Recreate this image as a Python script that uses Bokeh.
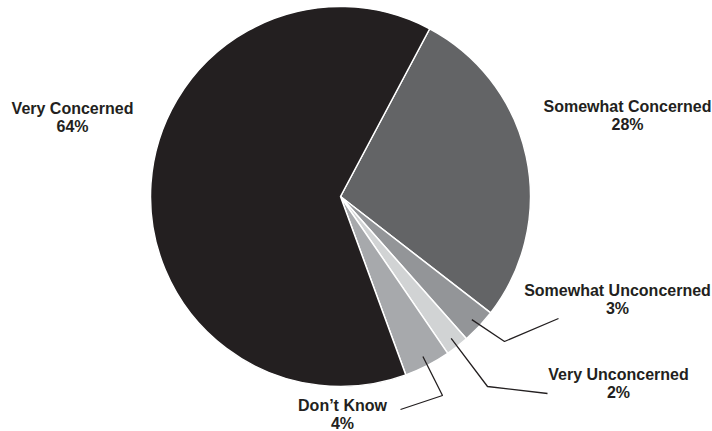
import math
from bokeh.plotting import figure
from bokeh.models import Range1d, ColumnDataSource
from bokeh.core.properties import value
from bokeh.embed import file_html
from bokeh.resources import INLINE

# Data (clockwise from Somewhat Concerned)
categories = ["Somewhat Concerned", "Somewhat Unconcerned", "Very Unconcerned", "Don't Know", "Very Concerned"]
percents = [28, 3, 2, 4, 64]
colors = ["#636466", "#939598", "#d1d3d4", "#a7a9ac", "#231f20"]

# layout (page pixel coordinates, y down)
W, H = 712, 431
cx, cy, R = 340, 196, 190
start_deg = 28.0  # clockwise from 12 o'clock

def Y(py):
    return H - py

total = sum(percents)
starts, ends, mids = [], [], []
a = start_deg
for v in percents:
    span = v / total * 360.0
    starts.append(a)
    ends.append(a + span)
    mids.append(a + span / 2)
    a += span

def to_math(theta_deg):
    return math.radians(90 - theta_deg)

p = figure(width=W, height=H, output_backend="svg", toolbar_location=None,
           x_range=Range1d(0, W), y_range=Range1d(0, H),
           min_border=0)
p.axis.visible = False
p.grid.visible = False
p.outline_line_color = None
p.background_fill_color = "white"

src = ColumnDataSource(dict(
    x=[cx] * len(percents), y=[Y(cy)] * len(percents),
    start=[to_math(s) for s in starts], end=[to_math(e) for e in ends],
    color=colors))
p.wedge(x="x", y="y", radius=R, start_angle="start", end_angle="end",
        direction="clock", fill_color="color", line_color="white",
        line_width=1.5, source=src)

# leader lines for small slices: anchor inside slice, elbow, end near label
leader = {
    "Somewhat Unconcerned": [(504, 341), (558, 318)],
    "Very Unconcerned": [(487, 386), (547, 393)],
    "Don't Know": [(442, 395), (400, 409)],
}
xs, ys = [], []
for cat, m in zip(categories, mids):
    if cat in leader:
        ax = cx + 180 * math.sin(math.radians(m))
        ay = cy - 180 * math.cos(math.radians(m))
        pts = [(ax, ay)] + leader[cat]
        xs.append([q[0] for q in pts])
        ys.append([Y(q[1]) for q in pts])
p.multi_line(xs, ys, line_color="#231f20", line_width=1.3)

# labels
label_pos = {
    "Very Concerned": (72, 108),
    "Somewhat Concerned": (627, 106),
    "Somewhat Unconcerned": (617, 290),
    "Very Unconcerned": (618, 374),
    "Don't Know": (342, 405),
}
tx, ty, tt = [], [], []
for cat, v in zip(categories, percents):
    lx, ly = label_pos[cat]
    name = cat.replace("'", "\u2019")
    tx += [lx, lx]
    ty += [Y(ly), Y(ly + 17.5)]
    tt += [name, f"{v}%"]
p.text(tx, ty, text=tt, text_font=value("Liberation Sans"), text_font_style="bold",
       text_font_size="16px", text_color="#231f20", text_align="center",
       text_baseline="middle")

open("out.html", "w").write(file_html(p, INLINE))
